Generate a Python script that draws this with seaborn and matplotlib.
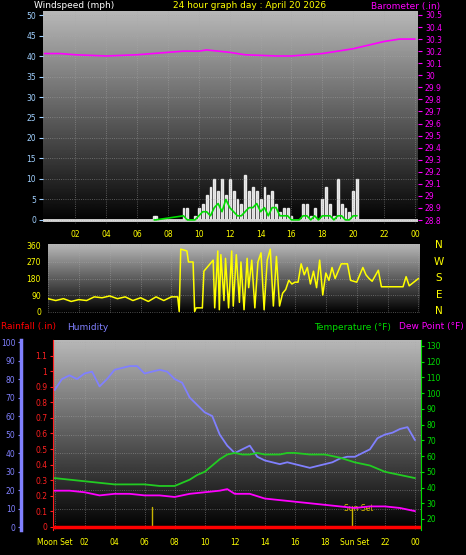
import numpy as np
import pandas as pd
import matplotlib
matplotlib.use("Agg")
import matplotlib.pyplot as plt
import matplotlib.transforms as mtransforms
import seaborn as sns

sns.set_style("dark")
plt.rcParams['font.family'] = ['DejaVu Sans']

# ---------------- data ----------------
hum_t = [0,0.5,1,1.5,2,2.5,3,3.5,4,4.5,5,5.5,6,6.5,7,7.5,8,8.5,9,9.5,10,10.5,11,11.5,12,12.5,13,13.5,14,14.5,15,15.5,16,16.5,17,17.5,18,18.5,19,19.5,20,20.5,21,21.5,22,22.5,23,23.5,24]
hum_v = [74,80,82,80,83,84,76,80,85,86,87,87,83,84,85,84,80,78,70,66,62,60,50,44,40,42,44,38,36,35,34,35,34,33,32,33,34,35,37,38,38,40,42,48,50,51,53,54,47]
temp_t = [0,1,2,3,4,5,6,7,8,8.5,9,9.5,10,10.5,11,11.5,12,12.5,13,13.5,14,15,15.5,16,17,18,19,20,21,22,23,24]
temp_v = [46,45,44,43,42,42,42,41,41,43,45,48,50,54,58,61,62,61,61,62,61,61,62,62,61,61,59,56,54,50,48,46]
dew_t = [0,1,2,3,4,5,6,7,8,9,10,11,11.5,12,13,14,15,16,17,18,19,20,21,22,23,24]
dew_v = [38,38,37,35,36,36,35,35,34,36,37,38,39,36,36,33,32,31,30,29,28,27,28,28,27,25]
baro_t = [0,1,2,4,6,8,9,10,10.5,12,13,14,15,16,17,18,19,20,21,22,23,24]
baro_v = [30.18,30.18,30.17,30.16,30.17,30.19,30.20,30.20,30.21,30.19,30.17,30.165,30.16,30.16,30.17,30.18,30.20,30.22,30.25,30.28,30.30,30.30]
gust_t = [7.1,7.2,9.0,9.25,9.5,9.75,10.0,10.25,10.5,10.75,11.0,11.25,11.5,11.75,12.0,12.25,12.5,12.75,13.0,13.25,13.5,13.75,14.0,14.25,14.5,14.75,15.0,15.25,15.5,15.75,16.0,16.5,16.75,17.0,17.25,17.5,17.75,18.0,18.25,18.5,18.75,19.0,19.25,19.5,19.75,20.0,20.25]
gust_v = [1,1,3,3,0,1,3,4,6,8,10,7,10,6,10,7,5,4,11,7,8,7,5,8,6,7,4,2,3,3,1,0,4,4,1,3,0,5,8,4,1,10,4,3,2,7,10]
wavg_v = [0,0,1,0,0,0,1,2,2,1,3,4,2,5,3,2,1,1,2,3,3,4,2,3,1,3,3,1,1,1,0,0,1,1,0,1,0,1,1,1,0,1,1,0,0,1,1]
wdir_t = [0,0.5,1,1.5,2,2.5,3,3.5,4,4.5,5,5.5,6,6.5,7,7.5,8,8.4,8.5,8.6,9,9.1,9.4,9.5,9.6,10,10.1,10.5,10.7,10.8,11,11.1,11.2,11.4,11.5,11.7,11.9,12,12.2,12.4,12.5,12.7,12.9,13,13.2,13.4,13.6,13.8,14,14.2,14.4,14.6,14.8,15,15.2,15.4,15.6,15.8,16,16.2,16.4,16.6,16.8,17,17.2,17.4,17.6,17.8,18,18.2,18.4,18.6,18.8,19,19.4,19.6,20,20.4,20.6,20.8,21,21.4,21.6,22,22.5,23,23.2,23.4,24]
wdir_v = [70,60,70,55,65,60,80,75,85,70,80,60,75,55,80,60,80,80,0,340,330,270,270,0,20,20,220,260,280,20,330,10,310,60,290,20,330,30,310,50,270,10,290,130,280,20,270,320,10,280,340,30,300,30,100,120,170,150,160,160,260,200,240,150,220,130,280,90,210,170,240,180,220,260,260,170,160,240,200,180,165,225,135,135,135,135,190,140,180]

hours = list(range(0, 25, 2))
hour_labels = ["%02d" % (h % 24) for h in hours]

BLUE = "#8080ff"
YEL = "#ffff00"
MAG = "#ff00ff"
GRN = "#00dd00"
FS = 6.5
TS = 5.5

W, H = 466, 555
fig = plt.figure(figsize=(W/100, H/100), dpi=100, facecolor="black")

def rect(l, t, r, b):
    return [l/W, 1-b/H, (r-l)/W, (b-t)/H]

def grad(ax):
    g = np.linspace(0.72, 0.0, 256).reshape(-1, 1)
    ax.imshow(g, cmap="gray", vmin=0, vmax=1, aspect="auto", extent=[0, 1, 0, 1],
              transform=ax.transAxes, zorder=0, origin="upper")
    ax.grid(True, color="#aaaaaa", linestyle=":", linewidth=0.6, alpha=0.6)
    ax.set_axisbelow(False)
    for s in ax.spines.values():
        s.set_visible(False)

# ---------------- top panel ----------------
ax1 = fig.add_axes(rect(43, 11, 418, 224))
grad(ax1)
gdf = pd.DataFrame({"t": gust_t, "g": gust_v, "a": wavg_v})
ax1.bar(gdf["t"], gdf["g"], width=0.12, color="#e8e8e8", alpha=0.85, zorder=2)
sns.lineplot(data=gdf, x="t", y="a", ax=ax1, color=GRN, linewidth=1.2, zorder=3)
ax1.axhline(0, color="#dddddd", lw=2, zorder=2)
ax1.set_xlim(-0.1, 24.2)
ax1.set_ylim(-1, 51)
ax1.set_yticks(range(0, 51, 5))
ax1.set_xticks(hours[1:])
ax1.set_xticklabels(hour_labels[1:])
ax1.tick_params(axis="y", colors="#a0d0ff", labelsize=TS, length=3, pad=2)
ax1.tick_params(axis="x", colors=YEL, labelsize=TS, length=0, pad=4)
ax1.set_xlabel(""); ax1.set_ylabel("")
ax1b = ax1.twinx()
bdf = pd.DataFrame({"t": baro_t, "p": baro_v})
sns.lineplot(data=bdf, x="t", y="p", ax=ax1b, color=MAG, linewidth=1.2)
ax1b.set_ylim(28.8 - 1.7/52, 30.5 + 1.7/52)
bt = np.round(np.arange(28.8, 30.51, 0.1), 1)
ax1b.set_yticks(bt)
ax1b.set_yticklabels([("%g" % v) for v in bt])
ax1b.tick_params(axis="y", colors=MAG, labelsize=TS, length=3, pad=2)
ax1b.set_ylabel(""); ax1b.set_xlabel("")
for s in ax1b.spines.values():
    s.set_visible(False)
fig.text(34/W, 1-6/H, "Windspeed (mph)", color="white", fontsize=FS, va="center")
fig.text(250/W, 1-6/H, "24 hour graph day : April 20 2026", color=YEL, fontsize=FS, va="center", ha="center")
fig.text(440/W, 1-6/H, "Barometer (.in)", color=MAG, fontsize=FS, va="center", ha="right")

# ---------------- middle panel ----------------
ax2 = fig.add_axes(rect(48, 244, 420, 313))
grad(ax2)
ddf = pd.DataFrame({"t": wdir_t, "d": wdir_v})
sns.lineplot(data=ddf, x="t", y="d", ax=ax2, color=YEL, linewidth=1.1, zorder=3)
ax2.set_xlim(0, 24.1)
ax2.set_ylim(-8, 368)
ax2.set_yticks([0, 90, 180, 270, 360])
ax2.set_xticks(hours)
ax2.set_xticklabels([])
ax2.tick_params(axis="y", colors=YEL, labelsize=TS, length=3, pad=2)
ax2.tick_params(axis="x", length=0)
ax2.set_xlabel(""); ax2.set_ylabel("")
for i, lab in enumerate(["N", "W", "S", "E", "N"]):
    fig.text(439/W, 1-(245+i*16.5)/H, lab, color=YEL, fontsize=7.5, ha="center", va="center")

# ---------------- bottom panel ----------------
ax3 = fig.add_axes(rect(53, 340, 421, 530))
grad(ax3)
hdf = pd.DataFrame({"t": hum_t, "h": hum_v})
sns.lineplot(data=hdf, x="t", y="h", ax=ax3, color=BLUE, linewidth=1.3, zorder=3)
ax3.set_xlim(-0.1, 24.4)
ax3.set_ylim(-1.6, 101.1)
ax3.set_yticks(range(0, 101, 10))
ax3.spines["left"].set_visible(True)
ax3.spines["left"].set_position(("outward", 23))
ax3.spines["left"].set_color(BLUE)
ax3.spines["left"].set_linewidth(2.5)
ax3.tick_params(axis="y", colors=BLUE, labelsize=TS, length=2, pad=2)
ax3.set_xticks(hours)
ax3.set_xticklabels(["Moon Set"] + hour_labels[1:10] + ["Sun Set"] + hour_labels[11:])
ax3.tick_params(axis="x", colors=YEL, labelsize=TS, length=0, pad=6)
ax3.set_xlabel(""); ax3.set_ylabel("")

ax3r = ax3.twinx()
ax3r.set_ylim(-0.02, 1.2)
ax3r.yaxis.set_ticks_position("left")
rt = np.round(np.arange(0, 1.11, 0.1), 1)
ax3r.set_yticks(rt)
ax3r.set_yticklabels(["%g" % v for v in rt])
ax3r.tick_params(axis="y", colors="#ff2020", labelsize=TS, length=2, pad=2)
for s in ax3r.spines.values():
    s.set_visible(False)
ax3r.spines["left"].set_visible(True)
ax3r.spines["left"].set_color("#ff2020")
ax3r.axhline(0, color="#ff0000", lw=2.5, zorder=4)
ax3r.axvline(6.5, ymin=0.02, ymax=0.12, color="#c8b400", lw=1)
ax3r.axvline(19.8, ymin=0.02, ymax=0.12, color="#c8b400", lw=1)
ax3r.text(19.3, 0.1, "Sun Set", color="#e0c000", fontsize=TS)

ax3t = ax3.twinx()
tdf = pd.DataFrame({"t": temp_t, "v": temp_v})
pdf = pd.DataFrame({"t": dew_t, "v": dew_v})
sns.lineplot(data=tdf, x="t", y="v", ax=ax3t, color="#22cc22", linewidth=1.3)
sns.lineplot(data=pdf, x="t", y="v", ax=ax3t, color=MAG, linewidth=1.3)
ax3t.set_ylim(13, 133.8)
ax3t.set_yticks(range(20, 131, 10))
ax3t.tick_params(axis="y", colors=GRN, labelsize=TS, length=2, pad=2)
for s in ax3t.spines.values():
    s.set_visible(False)
ax3t.spines["right"].set_visible(True)
ax3t.spines["right"].set_color(GRN)
ax3t.set_ylabel(""); ax3t.set_xlabel("")

fig.text(1/W, 1-327/H, "Rainfall (.in)", color="#ff0000", fontsize=FS, va="center")
fig.text(67/W, 1-327/H, "Humidity", color=BLUE, fontsize=FS, va="center")
fig.text(391/W, 1-327/H, "Temperature (°F)", color=GRN, fontsize=FS, va="center", ha="right")
fig.text(464/W, 1-327/H, "Dew Point (°F)", color=MAG, fontsize=FS, va="center", ha="right")

fig.savefig("out.png", dpi=100, facecolor="black")
